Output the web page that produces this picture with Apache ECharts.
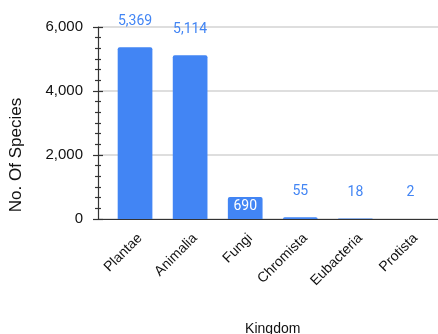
<!DOCTYPE html>
<html>
<head>
<meta charset="utf-8">
<script src="https://cdn.jsdelivr.net/npm/echarts@6/dist/echarts.min.js"></script>
<style>
  html, body { margin: 0; padding: 0; background: #fff; }
  #chart { width: 438px; height: 334px; }
</style>
</head>
<body>
<div id="chart"></div>
<script>
// Species counts per kingdom
const kingdoms = ['Plantae', 'Animalia', 'Fungi', 'Chromista', 'Eubacteria', 'Protista'];
const speciesCounts = [5369, 5114, 690, 55, 18, 2];
const yTicks = [0, 2000, 4000, 6000];

const barColor = '#4285F4';
const axisFont = '"Liberation Sans", Arial, sans-serif';
const labelFont = 'Roboto, "Noto Sans", sans-serif';

const chart = echarts.init(document.getElementById('chart'), null, { renderer: 'canvas' });

const yMin = yTicks[0];
const yMax = yTicks[yTicks.length - 1];
const yStep = yTicks[1] - yTicks[0];
const fmt = v => v.toLocaleString('en-US');

chart.setOption({
  animation: false,
  grid: [
    // frame: value axis, gridlines and baseline
    { left: 98, right: 0, top: 27, bottom: 115, outerBoundsMode: 'none', containLabel: false },
    // plot area for the bars, inset a little from the value axis
    { left: 107.5, right: 0, top: 27, bottom: 115, outerBoundsMode: 'none', containLabel: false }
  ],
  xAxis: [
    {
      gridIndex: 0,
      type: 'value', min: 0, max: 1,
      axisLine: { show: true, onZero: false, lineStyle: { color: '#333', width: 1.2 } },
      axisTick: { show: false },
      axisLabel: { show: false },
      splitLine: { show: false }
    },
    {
      gridIndex: 1,
      type: 'category',
      data: kingdoms,
      name: 'Kingdom',
      nameLocation: 'middle',
      nameGap: 103,
      nameTextStyle: { color: '#111', fontSize: 14, fontFamily: axisFont },
      axisLine: { show: false },
      axisTick: { show: false },
      axisLabel: {
        rotate: 45, color: '#111', fontSize: 14, fontFamily: axisFont,
        margin: 12, verticalAlign: 'top'
      }
    }
  ],
  yAxis: [
    {
      gridIndex: 0,
      type: 'value',
      min: yMin, max: yMax, interval: yStep,
      name: 'No. Of Species',
      nameLocation: 'middle',
      nameGap: 73,
      nameTextStyle: { color: '#111', fontSize: 17, fontFamily: axisFont, padding: [0, 0, 0, -64] },
      axisLine: { show: true, lineStyle: { color: '#333', width: 1.2 } },
      axisTick: { show: true, inside: false, length: 5, lineStyle: { color: '#333', width: 1.2 } },
      minorTick: { show: true, splitNumber: 6, length: 3, lineStyle: { color: '#333', width: 1.2 } },
      axisLabel: { color: '#111', fontSize: 15, fontFamily: axisFont, margin: 15, formatter: fmt },
      splitLine: { show: true, lineStyle: { color: '#d3d3d3', width: 1.5 } }
    },
    {
      // mirrored ticks so that they cross the axis line
      gridIndex: 0,
      type: 'value',
      position: 'left',
      min: yMin, max: yMax, interval: yStep,
      axisLine: { show: false },
      axisTick: { show: true, inside: true, length: 5, lineStyle: { color: '#333', width: 1.2 } },
      minorTick: { show: true, splitNumber: 6, length: 3, lineStyle: { color: '#333', width: 1.2 } },
      axisLabel: { show: false },
      splitLine: { show: false }
    },
    {
      gridIndex: 1,
      type: 'value',
      min: yMin, max: yMax, interval: yStep,
      axisLine: { show: false },
      axisTick: { show: false },
      axisLabel: { show: false },
      splitLine: { show: false }
    }
  ],
  series: [{
    type: 'bar',
    xAxisIndex: 1,
    yAxisIndex: 2,
    data: speciesCounts.map((v, i) => ({
      value: v,
      label: i === 2
        ? { position: 'insideTop', distance: 3, color: '#fff' }
        : { position: 'top', distance: 19, color: barColor }
    })),
    barWidth: '63%',
    itemStyle: { color: barColor, borderRadius: [2, 2, 0, 0] },
    label: {
      show: true,
      fontSize: 14,
      fontFamily: labelFont,
      formatter: p => fmt(p.value)
    }
  }]
});
</script>
</body>
</html>
